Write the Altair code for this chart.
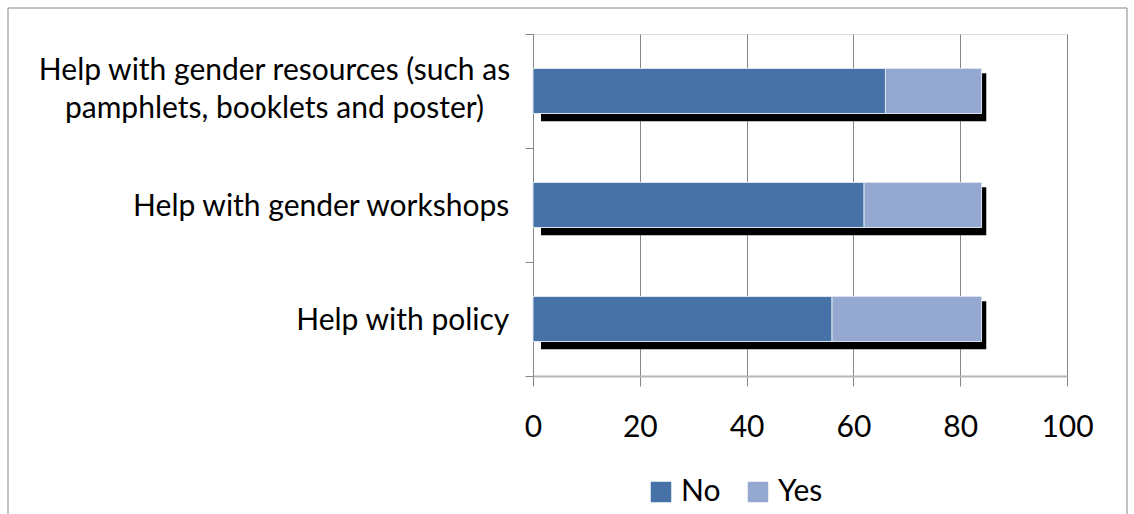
import altair as alt
import pandas as pd

categories = [
    "Help with gender resources (such as pamphlets, booklets and poster)",
    "Help with gender workshops",
    "Help with policy",
]
label_lines = [
    ["Help with gender resources (such as", "pamphlets, booklets and poster)"],
    ["Help with gender workshops"],
    ["Help with policy"],
]
no_vals = [66, 62, 56]
yes_vals = [18, 22, 28]
responses = ["No", "Yes"]
colors = ["#4672A7", "#95A9D0"]
x_ticks = [0, 20, 40, 60, 80, 100]

rows = []
for c, n, y in zip(categories, no_vals, yes_vals):
    rows.append({"cat": c, "resp": "No", "val": n, "ord": 0})
    rows.append({"cat": c, "resp": "Yes", "val": y, "ord": 1})
df = pd.DataFrame(rows)
tot = pd.DataFrame({"cat": categories, "total": [n + y for n, y in zip(no_vals, yes_vals)]})
labels_df = pd.DataFrame({
    "cat": categories,
    "lines": label_lines,
    "n": [len(l) for l in label_lines],
})

FONT = "Lato"
FS = 30

ysort = alt.Y("cat:N", sort=categories, title=None)

shadow = alt.Chart(tot).mark_bar(color="#000000", size=48, xOffset=4.7, x2Offset=8, yOffset=6.3).encode(
    x=alt.X("total:Q", scale=alt.Scale(domain=[0, 100], nice=False), title=None,
            axis=alt.Axis(values=x_ticks, grid=True, gridColor="#868686", domainColor="#B8B8B8",
                          domainWidth=2, tickColor="#868686", tickSize=10, labelFont=FONT,
                          labelFontSize=FS, labelColor="#000000", labelPadding=26,
                          labelFlush=False)),
    x2=alt.value(0),
    y=alt.Y("cat:N", sort=categories, title=None,
            scale=alt.Scale(paddingInner=0, paddingOuter=0),
            axis=alt.Axis(labels=False, tickBand="extent", tickSize=8, tickColor="#868686",
                          domainColor="#868686", grid=False)),
)

bars = alt.Chart(df).mark_bar(size=45, stroke="#DCE3EE", strokeWidth=1).encode(
    x=alt.X("val:Q", stack="zero", title=None),
    y=ysort,
    color=alt.Color(
        "resp:N",
        scale=alt.Scale(domain=responses, range=colors),
        title=None,
        legend=alt.Legend(
            orient="none", direction="horizontal", legendX=113, legendY=443,
            symbolType="square", symbolSize=420, symbolStrokeWidth=0,
            labelFont=FONT, labelFontSize=FS, labelColor="#000000",
            columnPadding=22, labelOffset=5,
        ),
    ),
    order=alt.Order("ord:Q"),
)

multi_lbl = alt.Chart(labels_df).transform_filter("datum.n > 1").mark_text(
    align="center", baseline="alphabetic", font=FONT, fontSize=FS, color="#000000",
    lineHeight=38, yOffset=-11,
).encode(y=ysort, x=alt.value(-258.5), text="lines")

single_lbl = alt.Chart(labels_df).transform_filter("datum.n == 1").mark_text(
    align="right", baseline="alphabetic", font=FONT, fontSize=FS, color="#000000",
    yOffset=10.5,
).encode(y=ysort, x=alt.value(-23.7), text="lines")

frame = alt.Chart(pd.DataFrame({"a": [0]})).mark_rect(fillOpacity=0, stroke="#868686", strokeWidth=1).encode(
    x=alt.value(-525), x2=alt.value(594), y=alt.value(-26), y2=alt.value(520)
)

chart = alt.layer(frame, shadow, bars, multi_lbl, single_lbl).properties(
    width=534, height=342,
    autosize=alt.AutoSizeParams(type="none"),
    padding={"left": 533, "top": 34, "right": 67, "bottom": 138},
).configure_view(stroke=None).configure(background="#FFFFFF")

chart.save("out.html", embed_options={"renderer": "svg", "actions": False})
